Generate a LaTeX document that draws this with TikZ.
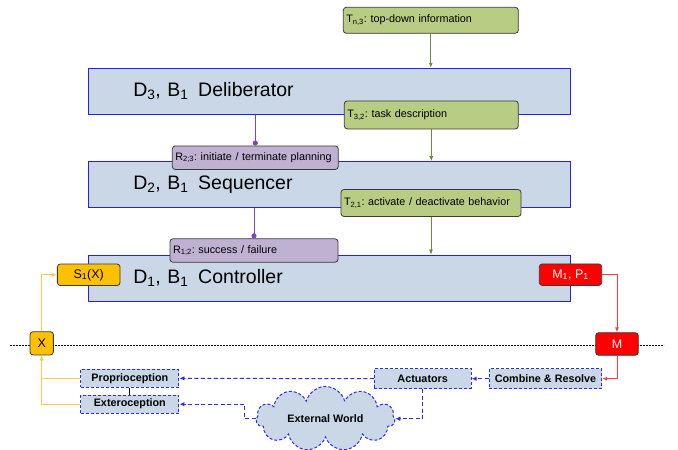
\documentclass[tikz,border=0pt]{standalone}
\usepackage{fontspec}
\setmainfont{Liberation Sans}
\usetikzlibrary{arrows.meta,shapes.symbols}
\definecolor{layerfill}{HTML}{C9D7E6}
\definecolor{layerline}{HTML}{1F1FFF}
\definecolor{topfill}{HTML}{B8CC84}
\definecolor{toparrow}{HTML}{6F8A3A}
\definecolor{upfill}{HTML}{C0B1D2}
\definecolor{upline}{HTML}{8040C0}
\definecolor{sensfill}{HTML}{FFC000}
\definecolor{sensline}{HTML}{FFC940}
\definecolor{motfill}{HTML}{FF0000}
\definecolor{motline}{HTML}{FF3B3B}
\definecolor{worldline}{HTML}{2B2BF0}
\definecolor{boxedge}{HTML}{3A3A3A}
\frenchspacing
\begin{document}
\begin{tikzpicture}[x=1pt, y=-1pt,
    layer/.style={draw=layerline, line width=0.9pt, fill=layerfill, minimum height=46pt,
      text width=392.4pt, inner xsep=45pt, align=left, font=\fontsize{19.5}{22}\selectfont},
    downbox/.style={draw=boxedge, line width=0.8pt, rounded corners=3pt, fill=topfill,
      inner xsep=3pt, inner ysep=0pt, align=left, font=\frenchspacing\fontsize{10.8}{13}\selectfont, minimum height=27pt},
    upbox/.style={downbox, fill=upfill, minimum height=23.5pt},
    downarrow/.style={draw=toparrow, line width=0.8pt, -{Latex[length=5pt,width=4pt]}},
    uparrow/.style={draw=upline, line width=0.8pt, {Circle[length=5pt]}-},
    sensor/.style={draw=boxedge, line width=0.8pt, rounded corners=3pt, fill=sensfill,
      inner sep=0pt, minimum height=21.5pt, font=\fontsize{12.5}{14}\selectfont},
    motor/.style={sensor, fill=motfill, text=white},
    sensarrow/.style={draw=sensline, line width=0.9pt, -{Latex[length=5pt,width=4pt]}},
    motarrow/.style={draw=motline, line width=0.9pt, -{Latex[length=5pt,width=4pt]}},
    worldbox/.style={draw=worldline, dash pattern=on 3pt off 2pt, line width=1pt, fill=layerfill,
      inner sep=0pt, font=\bfseries\fontsize{10.8}{13}\selectfont},
    worldarrow/.style={draw=worldline, dash pattern=on 4pt off 2.5pt, line width=1pt,
      -{Latex[length=5pt,width=4.5pt]}}]
  \useasboundingbox (0,0) rectangle (678,450);

  \coordinate (lineleft) at (10,345);
  \coordinate (lineright) at (664,345);
  \draw[dash pattern=on 2pt off 1pt, line width=0.7pt] (lineleft) -- (lineright);

  \node[layer] (delib) at (329.5,91.2) {D\textsubscript{3}, B\textsubscript{1}\hspace{0.5em}Deliberator};
  \node[layer] (seq) at (329.5,184.6) {D\textsubscript{2}, B\textsubscript{1}\hspace{0.5em}Sequencer};
  \node[layer] (ctrl) at (329.5,278) {D\textsubscript{1}, B\textsubscript{1}\hspace{0.5em}Controller};

  \node[downbox, text width=169pt, minimum height=26pt] (tn3) at (430.8,20.3) {T\textsubscript{n,3}: top-down information};
  \node[downbox, text width=168pt, minimum height=28pt] (t32) at (431.3,114.9) {T\textsubscript{3,2}: task description};
  \node[downbox, text width=174pt] (t21) at (431,203) {T\textsubscript{2,1}: activate / deactivate behavior};
  \node[upbox, text width=160pt] (r23) at (255.3,157.7) {\mbox{R\textsubscript{2;3}: initiate / terminate planning}};
  \node[upbox, text width=162pt] (r12) at (254,250.5) {R\textsubscript{1;2}: success / failure};

  \draw[downarrow] (tn3.south) -- (tn3.south |- delib.north);
  \draw[downarrow] (t32.south) -- (t32.south |- seq.north);
  \draw[downarrow] (t21.south) -- (t21.south |- ctrl.north);
  \draw[uparrow] (r23.north) -- (r23.north |- delib.south);
  \draw[uparrow] (r12.north) -- (r12.north |- seq.south);

  \node[sensor, minimum width=62.7pt] (s1) at (88.7,274.8) {S\textsubscript{1}(X)};
  \node[motor, minimum width=62.4pt] (m1) at (570.5,274.7) {M\textsubscript{1}, P\textsubscript{1}};
  \node[sensor, minimum width=23.3pt, minimum height=23.3pt] (xin) at (41.7,343.3) {X};
  \node[motor, minimum width=42.6pt, minimum height=22.6pt] (mout) at (617,344) {M};

  \node[worldbox, minimum width=98.3pt, minimum height=18pt] (prop) at (129.8,378.3) {Proprioception};
  \node[worldbox, minimum width=98.3pt, minimum height=18.3pt] (extero) at (129.8,404.2) {Exteroception};
  \node[worldbox, minimum width=96.7pt, minimum height=20pt] (act) at (422.7,378.7) {Actuators};
  \node[worldbox, minimum width=112.4pt, minimum height=20pt] (comb) at (545.5,378.7) {Combine \& Resolve};
  \node[worldbox, cloud, cloud puffs=11, aspect=2.5, minimum width=139pt, minimum height=54pt] (world) at (325.5,418.7) {External World};

  \draw[sensarrow] (xin.north) |- (s1.west);
  \draw[sensarrow] (prop.west) -| (xin.south);
  \draw[sensarrow] (extero.west) -| (xin.south);
  \draw[motarrow] (m1.east) -| (mout.north);
  \draw[motarrow] (mout.south) |- (comb.east);
  \draw[worldarrow] (comb.west) -- (act.east);
  \draw[worldarrow] (act.west) -- (prop.east);
  \draw[worldarrow] (act.south) |- (world.east);
  \draw[worldarrow] (world.west) -- ++(-11,0) |- (extero.east);
  \draw[line width=0.8pt] (prop.south) -- (extero.north);
\end{tikzpicture}
\end{document}
